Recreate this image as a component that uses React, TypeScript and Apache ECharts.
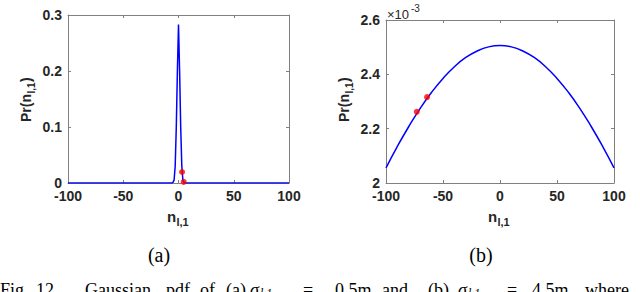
import React, { useEffect, useRef } from "react";
import * as echarts from "echarts";

// Panel (a): sigma small, narrow Gaussian
const leftN = [-100, -6, -5, -4, -3, -2, -1, 0, 1, 2, 3, 4, 5, 6, 100];
const leftPr = [0, 0, 0.001, 0.005, 0.03, 0.1, 0.2, 0.283, 0.2, 0.1, 0.03, 0.005, 0.001, 0, 0];
const leftRedN = [3.2, 4.7];
const leftRedPr = [0.0196, 0.002];

// Panel (b): wide Gaussian, values in units of 1e-3
const rightN = [-100, -90, -80, -70, -60, -50, -40, -30, -20, -10, 0, 10, 20, 30, 40, 50, 60, 70, 80, 90, 100];
const rightPr = [2.056, 2.135, 2.208, 2.275, 2.334, 2.385, 2.428, 2.462, 2.486, 2.501, 2.506, 2.501, 2.486, 2.462, 2.428, 2.385, 2.334, 2.275, 2.208, 2.135, 2.056];
const rightRedN = [-73, -64];
const rightRedPr = [2.262, 2.316];

const xTicks = [-100, -50, 0, 50, 100];
const leftYTicks = [0, 0.1, 0.2, 0.3];
const rightYTicks = [2, 2.2, 2.4, 2.6];

const SANS = '"Liberation Sans", Arial, sans-serif';
const SERIF = '"Liberation Serif", "Times New Roman", serif';
const AXIS_COLOR = "#808080";
const LABEL_COLOR = "#262626";

function pairs(a: number[], b: number[]) {
  return a.map((v, i) => [v, b[i]]);
}

function makeAxes(gridIndex: number, yTicks: number[]) {
  const yMin = yTicks[0];
  const yMax = yTicks[yTicks.length - 1];
  const yInt = yTicks[1] - yTicks[0];
  const lineStyle = { color: AXIS_COLOR, width: 1 };
  const tick = { show: true, inside: true, length: 3, lineStyle };
  const label = {
    color: LABEL_COLOR,
    fontFamily: SANS,
    fontWeight: "bold" as const,
    fontSize: 14,
  };
  const xa = [
    {
      type: "value", gridIndex, min: xTicks[0], max: xTicks[xTicks.length - 1], interval: 50,
      position: "bottom", axisLine: { show: true, lineStyle, onZero: false }, axisTick: tick,
      axisLabel: { ...label, margin: 6 }, splitLine: { show: false },
    },
    {
      type: "value", gridIndex, min: xTicks[0], max: xTicks[xTicks.length - 1], interval: 50,
      position: "top", axisLine: { show: true, lineStyle, onZero: false }, axisTick: tick,
      axisLabel: { show: false }, splitLine: { show: false },
    },
  ];
  const ya = [
    {
      type: "value", gridIndex, min: yMin, max: yMax, interval: yInt, position: "left",
      axisLine: { show: true, lineStyle, onZero: false }, axisTick: tick,
      axisLabel: { ...label, margin: 6, formatter: (v: number) => String(parseFloat(v.toFixed(2))) },
      splitLine: { show: false },
    },
    {
      type: "value", gridIndex, min: yMin, max: yMax, interval: yInt, position: "right",
      axisLine: { show: true, lineStyle, onZero: false }, axisTick: tick,
      axisLabel: { show: false }, splitLine: { show: false },
    },
  ];
  return { xa, ya };
}

function yTitle(cx: number, cy: number) {
  const mainFont = `bold 14px ${SANS}`;
  const subFont = `bold 10px ${SANS}`;
  return {
    type: "group",
    x: cx,
    y: cy,
    rotation: Math.PI / 2,
    children: [
      { type: "text", x: -22, y: 0, style: { text: "Pr(n", font: mainFont, fill: LABEL_COLOR, textAlign: "left", textVerticalAlign: "middle" } },
      { type: "text", x: 6.5, y: 5, style: { text: "l,1", font: subFont, fill: LABEL_COLOR, textAlign: "left", textVerticalAlign: "middle" } },
      { type: "text", x: 18, y: 0, style: { text: ")", font: mainFont, fill: LABEL_COLOR, textAlign: "left", textVerticalAlign: "middle" } },
    ],
  };
}

function xTitle(x: number, y: number) {
  return {
    type: "group",
    x,
    y,
    children: [
      { type: "text", x: 0, y: 0, style: { text: "n", font: `bold 15px ${SANS}`, fill: LABEL_COLOR, textAlign: "left", textVerticalAlign: "middle" } },
      { type: "text", x: 9.5, y: 6, style: { text: "l,1", font: `bold 11px ${SANS}`, fill: LABEL_COLOR, textAlign: "left", textVerticalAlign: "middle" } },
    ],
  };
}

function serifText(x: number, y: number, text: string, size: number, italic = false, align = "left") {
  return {
    type: "text",
    x,
    y,
    style: {
      text,
      font: `${italic ? "italic " : ""}${size}px ${SERIF}`,
      fill: "#000",
      textAlign: align,
      textVerticalAlign: "top",
    },
  };
}

const captionWords: [number, string][] = [
  [0, "Fig."],
  [36, "12."],
  [85, "Gaussian"],
  [166, "pdf"],
  [200, "of"],
  [226, "(a)"],
  [303, "="],
  [335, "0.5m"],
  [382, "and"],
  [428, "(b)"],
  [507, "="],
  [532, "4.5m,"],
  [585, "where"],
];

export default function App() {
  const ref = useRef<HTMLDivElement>(null);
  useEffect(() => {
    if (!ref.current) return;
    const chart = echarts.init(ref.current, undefined, { renderer: "svg" });
    const a = makeAxes(0, leftYTicks);
    const b = makeAxes(1, rightYTicks);
    const capY = 281;
    chart.setOption({
      animation: false,
      backgroundColor: "#fff",
      grid: [
        { left: 68, top: 15, width: 221, height: 168 },
        { left: 386, top: 20, width: 228, height: 163 },
      ],
      xAxis: [...a.xa, ...b.xa],
      yAxis: [...a.ya, ...b.ya],
      series: [
        {
          type: "line", xAxisIndex: 0, yAxisIndex: 0, data: pairs(leftN, leftPr),
          symbol: "none", lineStyle: { color: "#0000ff", width: 1.5 }, z: 3,
        },
        {
          type: "scatter", xAxisIndex: 0, yAxisIndex: 0, data: pairs(leftRedN, leftRedPr),
          symbolSize: 6, itemStyle: { color: "#ff0000" }, z: 4,
        },
        {
          type: "line", xAxisIndex: 2, yAxisIndex: 2, data: pairs(rightN, rightPr), smooth: true,
          symbol: "none", lineStyle: { color: "#0000ff", width: 1.5 }, z: 3,
        },
        {
          type: "scatter", xAxisIndex: 2, yAxisIndex: 2, data: pairs(rightRedN, rightRedPr),
          symbolSize: 6, itemStyle: { color: "#ff0000" }, z: 4,
        },
      ],
      graphic: [
        yTitle(26, 100),
        yTitle(344, 100),
        xTitle(167, 216),
        xTitle(488, 216),
        {
          type: "group", x: 387, y: 14,
          children: [
            { type: "text", x: 0, y: 0, style: { text: "×10", font: `13px ${SANS}`, fill: LABEL_COLOR, textAlign: "left", textVerticalAlign: "middle" } },
            { type: "text", x: 24, y: -6, style: { text: "-3", font: `10px ${SANS}`, fill: LABEL_COLOR, textAlign: "left", textVerticalAlign: "middle" } },
          ],
        },
        serifText(159, 245, "(a)", 20, false, "center"),
        serifText(481, 245, "(b)", 20, false, "center"),
        ...captionWords.map(([x, w]) => serifText(x, capY, w, 18)),
        serifText(250, capY, "σ", 18, true),
        serifText(260, capY + 6, "l,1", 12, true),
        serifText(458, capY, "σ", 18, true),
        serifText(468, capY + 6, "l,1", 12, true),
      ],
    });
    return () => chart.dispose();
  }, []);
  return (
    <div
      ref={ref}
      style={{ position: "fixed", left: 0, top: 0, width: 640, height: 292, overflow: "hidden" }}
    />
  );
}
